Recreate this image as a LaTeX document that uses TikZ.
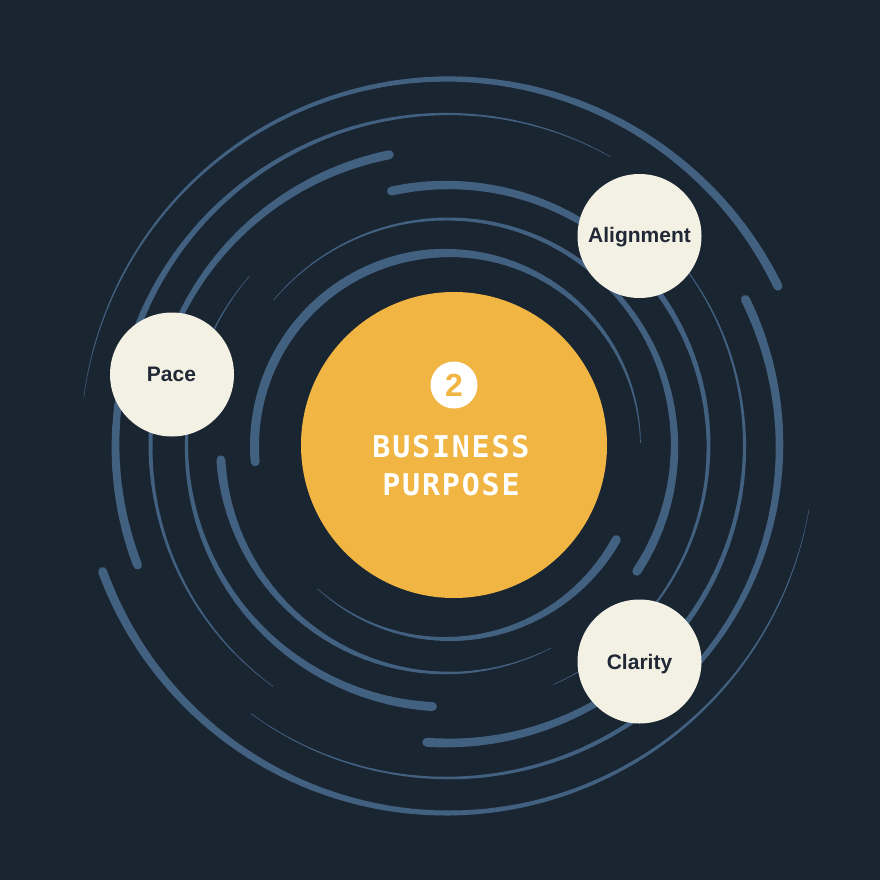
\documentclass[tikz,border=0pt]{standalone}
\usepackage{fontspec}
\newfontfamily\labfont{Liberation Sans}
\newfontfamily\monofont[LetterSpace=6]{DejaVu Sans Mono}
\definecolor{bg}{HTML}{1A2532}
\definecolor{arcc}{HTML}{42607F}
\definecolor{gold}{HTML}{F0B543}
\definecolor{cream}{HTML}{F3F0E4}
\definecolor{ink}{HTML}{1F2834}
% tapered arc around (O): radius, start angle, end angle, start width, end width
\newcommand\tarc[5]{%
  \foreach \k in {1,...,40}{%
    \pgfmathsetmacro\tA{#2+(#3-#2)*(\k-1)/40}%
    \pgfmathsetmacro\tB{#2+(#3-#2)*\k/40}%
    \pgfmathsetmacro\tW{#4+(#5-#4)*(\k-0.5)/40}%
    \draw[arcline, line width=\tW pt] (O) ++(\tA:#1pt) arc[start angle=\tA, end angle=\tB, radius=#1pt];
  }%
}
\begin{document}
\begin{tikzpicture}[x=1pt,y=1pt,
  arcline/.style={draw=arcc, line cap=round},
  bubble/.style={circle, fill=cream, minimum size=124pt, inner sep=0pt},
  bubtext/.style={anchor=base, text=ink, inner sep=0pt, font=\labfont\bfseries\fontsize{21}{25}\selectfont},
  coretext/.style={anchor=base, text=white, inner sep=0pt, font=\monofont\bfseries\fontsize{30}{36}\selectfont}]
\useasboundingbox (0,0) rectangle (880,-880);
\fill[bg] (0,0) rectangle (880,-880);
\coordinate (O) at (447.5,-446);
% ring 1
\tarc{193}{184.7}{100}{9}{9}
\tarc{193}{100}{1}{9}{0.6}
\tarc{193}{227.7}{331}{0.5}{9}
% ring 2
\tarc{227}{140}{-33.5}{0.5}{9}
\tarc{227}{183.5}{297}{9}{0.5}
% ring 3
\tarc{261}{102.4}{-66}{9}{0.5}
\tarc{261}{139.5}{266.7}{0.5}{9}
% ring 4
\tarc{297}{101.3}{234}{9}{0.5}
\tarc{297}{266}{402}{9}{0.5}
% ring 5
\tarc{332}{201}{60.7}{9}{0.5}
\tarc{332}{233.8}{386.2}{0.5}{9}
% ring 6
\tarc{367}{172.4}{25.8}{0.4}{9}
\tarc{367}{200}{350}{9}{0.4}
% core
\node[circle, fill=gold, minimum size=306pt, inner sep=0pt] (core) at (454,-445) {};
\node[circle, fill=white, minimum size=47pt, inner sep=0pt, text=gold,
      font=\labfont\bfseries\fontsize{32}{36}\selectfont] (badge) at (454,-385) {2};
\node[coretext] (t1) at (451,-457) {BUSINESS};
\node[coretext] (t2) at (451,-495) {PURPOSE};
% bubbles
\node[bubble] (align) at (639.5,-236) {};
\node[bubtext] (alignT) at (639.5,-242) {Alignment};
\node[bubble] (pace) at (172,-374.5) {};
\node[bubtext] (paceT) at (171.5,-381) {Pace};
\node[bubble] (clar) at (639.5,-661.5) {};
\node[bubtext] (clarT) at (639.5,-669) {Clarity};
\end{tikzpicture}
\end{document}
